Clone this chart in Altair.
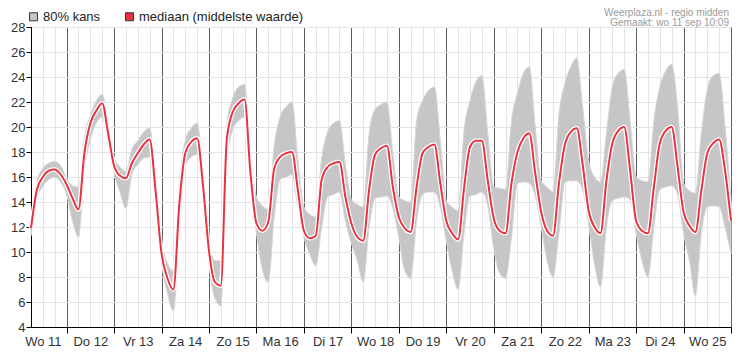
import altair as alt
import pandas as pd

# ---------------- data (3-hourly, from Wo 11 sep 06:00 to Do 26 sep 00:00, UTC) ----------------
start_time = "2024-09-11 06:00"
end_time = "2024-09-26 00:00"
step = "3h"

median = [
    11.9, 15.0, 16.0, 16.5, 16.6, 16.2,                     # Wo 11 (from 06h)
    15.4, 14.3, 13.4, 17.9, 20.3, 21.3, 21.9, 19.5,         # Do 12
    16.9, 16.1, 15.9, 17.1, 17.9, 18.6, 19.0, 14.9,         # Vr 13
    9.9, 7.9, 7.0, 13.8, 17.9, 18.8, 19.1, 15.3,            # Za 14
    10.1, 7.6, 7.3, 19.0, 21.2, 21.9, 22.2, 16.3,           # Zo 15
    12.3, 11.7, 12.4, 16.7, 17.6, 17.9, 18.0, 14.9,         # Ma 16
    11.7, 11.1, 11.3, 15.8, 16.8, 17.1, 17.2, 14.4,         # Di 17
    12.3, 11.2, 10.9, 15.0, 17.8, 18.3, 18.5, 15.2,         # Wo 18
    12.8, 11.9, 11.6, 15.2, 17.9, 18.4, 18.6, 15.5,         # Do 19
    12.5, 11.5, 11.0, 15.1, 18.4, 18.9, 18.9, 15.7,         # Vr 20
    12.7, 11.7, 11.5, 15.5, 18.0, 19.1, 19.5, 16.3,         # Za 21
    13.2, 11.7, 11.3, 15.5, 18.6, 19.6, 19.9, 17.0,         # Zo 22
    13.3, 12.0, 11.5, 15.7, 18.7, 19.7, 20.0, 16.5,         # Ma 23
    12.5, 11.7, 11.5, 15.2, 18.7, 19.7, 20.0, 16.8,         # Di 24
    13.2, 12.1, 11.6, 14.9, 17.9, 18.7, 19.0, 16.5,         # Wo 25
    12.5,                                                   # Do 26 00h
]

high80 = [
    12.4, 15.6, 16.7, 17.1, 17.25, 16.9,
    15.9, 15.3, 15.2, 19.2, 20.9, 22.1, 22.6, 20.2,
    17.6, 16.8, 16.4, 18.2, 18.9, 19.6, 19.9, 15.8,
    10.9, 9.1, 8.5, 15.5, 18.9, 19.9, 20.3, 16.3,
    11.0, 9.3, 9.3, 20.2, 22.3, 23.2, 23.4, 17.5,
    14.4, 13.7, 13.4, 18.5, 20.8, 21.6, 22.0, 17.3,
    13.6, 13.0, 12.8, 17.5, 19.6, 20.3, 20.5, 17.0,
    14.2, 13.8, 13.6, 19.5, 21.4, 21.8, 22.0, 17.9,
    14.4, 14.1, 14.0, 20.5, 22.1, 22.9, 23.2, 18.9,
    14.1, 13.6, 13.3, 19.7, 22.1, 23.6, 24.1, 19.5,
    15.2, 15.1, 15.0, 20.5, 22.7, 24.3, 24.8, 20.0,
    15.7, 15.2, 14.8, 21.0, 23.5, 24.8, 25.5, 21.6,
    17.3, 16.0, 15.6, 19.5, 23.2, 24.3, 24.6, 20.5,
    16.0, 15.7, 15.6, 20.5, 23.2, 24.5, 25.0, 21.6,
    15.5, 14.9, 14.7, 19.5, 23.0, 24.1, 24.3, 20.0,
    14.1,
]

low80 = [
    11.3, 14.2, 15.3, 15.8, 16.0, 15.6,
    14.6, 12.5, 11.2, 16.5, 19.0, 20.3, 20.8, 18.7,
    16.3, 14.8, 13.5, 16.2, 17.0, 17.5, 17.6, 14.0,
    9.2, 6.7, 5.3, 11.5, 16.9, 17.6, 17.8, 14.2,
    9.0, 6.3, 5.7, 17.0, 19.8, 20.5, 20.8, 15.0,
    11.5, 8.6, 7.6, 12.8, 15.8, 16.0, 16.2, 13.6,
    11.2, 9.8, 8.9, 12.0, 14.4, 14.6, 14.8, 12.5,
    10.7, 9.3, 7.6, 12.0, 14.3, 14.4, 14.5, 13.5,
    11.2, 8.5, 7.9, 12.5, 14.6, 14.8, 14.8, 13.6,
    10.9, 8.5, 7.0, 11.5, 14.5, 14.6, 14.8, 13.7,
    10.3, 8.3, 7.9, 11.2, 15.5, 15.6, 15.5, 14.5,
    12.0, 9.3, 8.0, 11.5, 15.6, 15.7, 15.7, 15.0,
    12.2, 9.0, 7.2, 12.0, 14.1, 14.3, 14.4, 14.2,
    11.5, 9.3, 8.0, 12.0, 15.0, 15.2, 15.3, 14.6,
    11.5, 9.3, 6.5, 11.5, 13.6, 13.7, 13.6, 12.0,
    9.9,
]

day_names = ["Zo", "Ma", "Di", "Wo", "Do", "Vr", "Za"]
y_ticks = list(range(4, 29, 2))
legend_labels = ["80% kans", "mediaan (middelste waarde)"]
legend_colors = ["#c6c6c6", "#e8323f"]
title_lines = ["Weerplaza.nl - regio midden", "Gemaakt: wo 11 sep 10:09"]

# ---------------- build table ----------------
times = pd.date_range(start_time, periods=len(median), freq=step)
df = pd.DataFrame({
    "t": [t.strftime("%Y-%m-%dT%H:%M:%SZ") for t in times],
    "med": median,
    "lo": low80,
    "hi": high80,
    "series": legend_labels[0],
})

def ms(ts):
    return int(pd.Timestamp(ts, tz="UTC").timestamp() * 1000)

x_domain = [ms(start_time), ms(end_time)]
x_values = [ms(t) for t in pd.date_range(start_time, end_time, freq="6h")]

names_js = "[" + ",".join("'%s'" % d for d in day_names) + "]"
label_expr = (
    "utchours(datum.value) == 12 ? " + names_js +
    "[utcday(datum.value)] + ' ' + utcdate(datum.value) : ''"
)

FONT = "Liberation Sans, Arial, sans-serif"

x_axis = alt.Axis(
    values=x_values,
    labelExpr=label_expr,
    labelOverlap=False,
    labelFlush=False,
    labelAngle=0,
    labelFont=FONT,
    labelFontSize=13,
    labelColor="#333333",
    labelPadding=2,
    tickSize=6,
    tickColor="#000000",
    tickOpacity=alt.condition("utchours(datum.value) == 0", alt.value(1), alt.value(0)),
    grid=True,
    gridColor=alt.condition("utchours(datum.value) == 0", alt.value("#5e5e5e"), alt.value("#e3e3e3")),
    gridWidth=1,
    domainColor="#000000",
    title=None,
)

y_axis = alt.Axis(
    values=y_ticks,
    labelFont=FONT,
    labelFontSize=13,
    labelColor="#333333",
    labelPadding=1,
    tickSize=5,
    tickColor="#000000",
    grid=True,
    gridColor="#e3e3e3",
    domainColor="#000000",
    title=None,
)

X = alt.X("t:T", scale=alt.Scale(type="utc", domain=x_domain, nice=False), axis=x_axis)
Y_SCALE = alt.Scale(domain=[4, 28], nice=False, zero=False)

base = alt.Chart(df)

band = base.mark_area(interpolate="monotone", stroke="#d6d6d6", strokeWidth=1).encode(
    x=X,
    y=alt.Y("lo:Q", scale=Y_SCALE, axis=y_axis),
    y2="hi:Q",
    color=alt.Color(
        "series:N",
        scale=alt.Scale(domain=legend_labels, range=legend_colors),
        legend=alt.Legend(
            title=None,
            orient="none",
            legendX=-4,
            legendY=-17,
            direction="horizontal",
            symbolType="square",
            symbolSize=64,
            symbolStrokeColor="#333333",
            symbolStrokeWidth=1,
            symbolOpacity=1,
            labelFont=FONT,
            labelFontSize=13,
            labelColor="#222222",
            labelOffset=3,
            labelLimit=400,
            columnPadding=22,
            padding=0,
        ),
    ),
)

halo = base.mark_line(interpolate="monotone", color="#ffffff", strokeWidth=4.5).encode(
    x=X, y=alt.Y("med:Q", scale=Y_SCALE, axis=y_axis)
)
line = base.mark_line(interpolate="monotone", color="#e8323f", strokeWidth=2).encode(
    x=X, y=alt.Y("med:Q", scale=Y_SCALE, axis=y_axis)
)

# source / timestamp note in the top-right corner
note_style = dict(align="right", baseline="alphabetic", font=FONT, fontSize=10, color="#9a9a9a")
note1 = alt.Chart(pd.DataFrame({"txt": [title_lines[0]]})).mark_text(**note_style).encode(
    text="txt:N", x=alt.value(698), y=alt.value(-11.5)
)
note2 = alt.Chart(pd.DataFrame({"txt": [title_lines[1]]})).mark_text(**note_style).encode(
    text="txt:N", x=alt.value(698), y=alt.value(-1.2)
)

chart = (
    alt.layer(band, halo, line, note1, note2)
    .properties(
        width=700,
        height=300,
        autosize="none",
        padding={"left": 23, "top": 19, "right": 7, "bottom": 20},
    )
    .configure_view(stroke="#000000", strokeWidth=1)
)

chart.save("out.html", embed_options={"renderer": "svg", "actions": False})
